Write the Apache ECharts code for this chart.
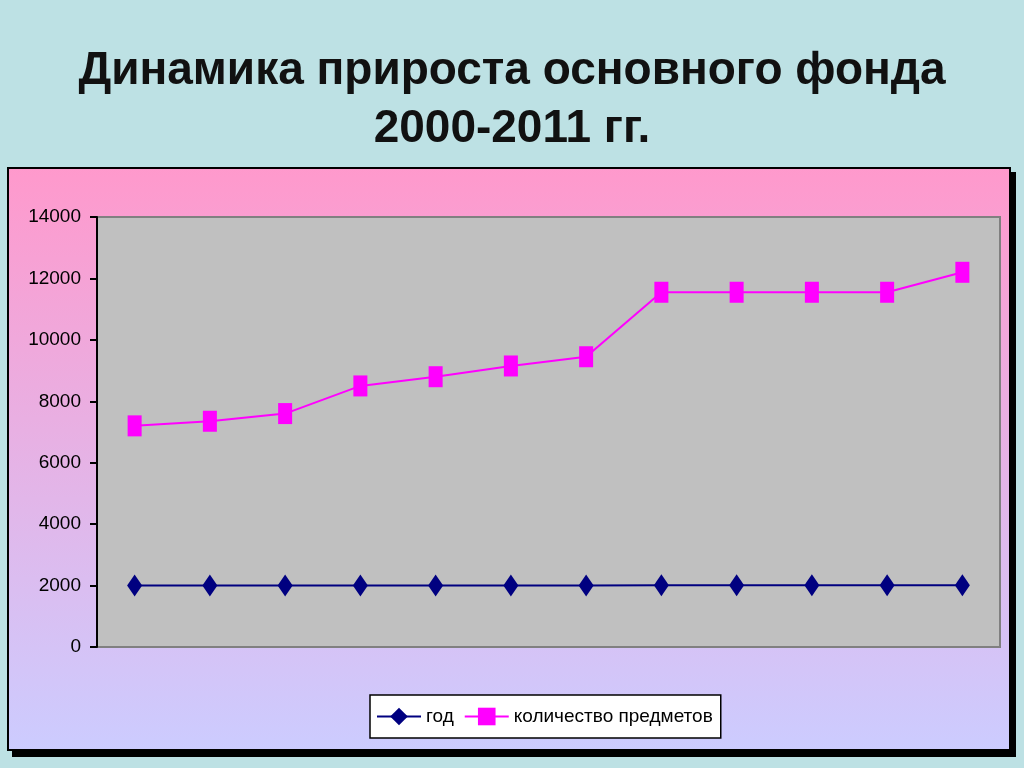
<!DOCTYPE html>
<html><head><meta charset="utf-8">
<script src="https://cdn.jsdelivr.net/npm/echarts@6/dist/echarts.min.js"></script>
<style>html,body{margin:0;padding:0;background:#bde1e4;}#c{width:1024px;height:768px;}</style>
</head><body><div id="c"></div>
<script>
var titleLines = ['Динамика прироста основного фонда', '2000-2011 гг.'];
var categories = ['2000','2001','2002','2003','2004','2005','2006','2007','2008','2009','2010','2011'];
var seriesNames = ['год', 'количество предметов'];
var godValues = [2000, 2001, 2002, 2003, 2004, 2005, 2006, 2007, 2008, 2009, 2010, 2011];
var kolValues = [7200, 7350, 7600, 8500, 8800, 9150, 9450, 11550, 11550, 11550, 11550, 12200];
var yMin = 0, yMax = 14000, yStep = 2000;

var chart = echarts.init(document.getElementById('c'));
chart.setOption({
  backgroundColor: '#bde1e4',
  animation: false,
  title: {
    text: titleLines.join('\n'),
    left: 'center', top: 37,
    textStyle: {fontFamily: 'Liberation Sans', fontWeight: 'bold', fontSize: 46, lineHeight: 58, color: '#111'}
  },
  graphic: [
    {type: 'rect', z: -10, shape: {x: 12, y: 172, width: 1004, height: 585}, style: {fill: '#000'}},
    {type: 'rect', z: -9, shape: {x: 8, y: 168, width: 1002, height: 582},
     style: {stroke: '#000', lineWidth: 2,
       fill: new echarts.graphic.LinearGradient(0, 0, 0, 1, [
         {offset: 0, color: '#ff99cc'}, {offset: 1, color: '#ccccff'}])}}
  ],
  grid: {left: 97, top: 217, width: 903, height: 430, show: true, backgroundColor: '#c0c0c0', borderColor: '#808080', borderWidth: 2},
  legend: {
    left: 370, top: 695, width: 350, height: 48,
    padding: [12, 8, 12, 6],
    backgroundColor: '#fff', borderColor: '#000', borderWidth: 1.5,
    itemWidth: 44, itemHeight: 22, itemGap: 10,
    textStyle: {fontFamily: 'Liberation Sans', fontSize: 19, color: '#000'},
    data: seriesNames
  },
  xAxis: {type: 'category', data: categories, boundaryGap: true,
    axisLine: {show: false}, axisTick: {show: false}, axisLabel: {show: false}},
  yAxis: {type: 'value', min: yMin, max: yMax, interval: yStep,
    axisLine: {show: true, lineStyle: {color: '#000', width: 2}},
    axisTick: {show: true, length: 7, lineStyle: {color: '#000', width: 2}},
    axisLabel: {margin: 16, fontFamily: 'Liberation Sans', fontSize: 19, color: '#000',
      formatter: function (v) { return String(v); }},
    splitLine: {show: false}},
  series: [
    {name: seriesNames[0], type: 'line', data: godValues, symbol: 'diamond', symbolSize: [15, 22],
     lineStyle: {color: '#000080', width: 2}, itemStyle: {color: '#000080'}},
    {name: seriesNames[1], type: 'line', data: kolValues, symbol: 'rect', symbolSize: [14, 21],
     lineStyle: {color: '#ff00ff', width: 2}, itemStyle: {color: '#ff00ff'}}
  ]
});
</script></body></html>
